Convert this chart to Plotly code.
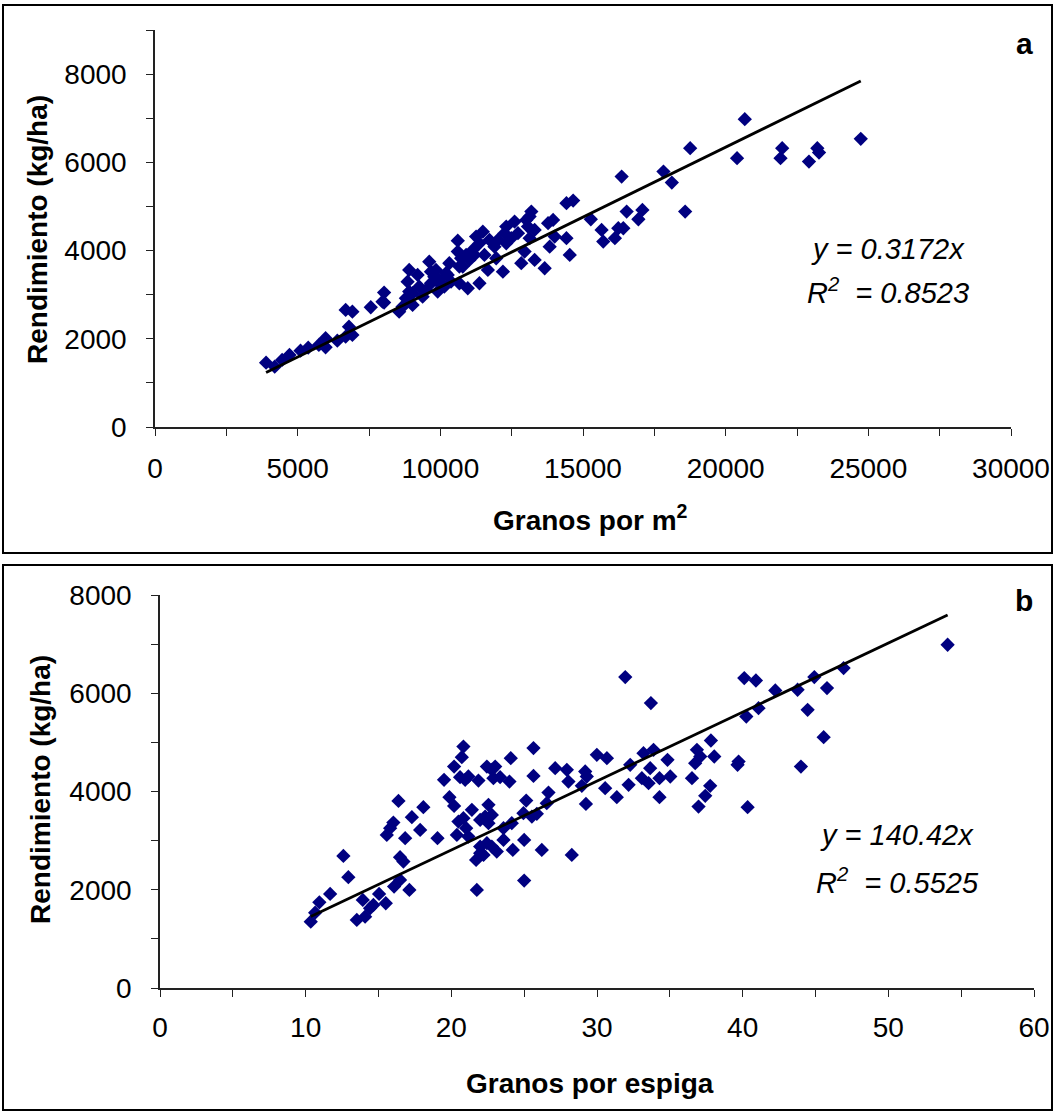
import plotly.graph_objects as go

# Panel a: Granos por m2 vs Rendimiento (kg/ha)
granos_m2 = [3893, 4196, 4456, 4713, 5100, 5370, 5743, 5979, 5979, 6390, 6682, 6918, 6798, 6918, 6682,
             7562, 8029, 7973, 8676, 9028, 9496, 9848, 10199, 10667, 10667, 9964,
             8030, 8557, 8909, 8852, 8909, 8793, 9028, 9204, 9260, 9380, 9612, 9672, 9788, 9964, 9907,
             10315, 10259, 10375, 10611, 10727, 10786, 10962, 11019, 11195, 11254, 11371, 11490, 11546,
             11371, 11666, 11722, 11958, 12018, 12193, 12310, 12310, 12485, 12602, 12721, 12837, 12953,
             13013, 13189, 13129, 13305, 13305, 13657, 13776, 13952, 14008, 13832,
             9672, 10140, 10611, 10903, 11138, 11898, 12249, 13072, 13129,
             14420, 14655, 14420, 14536, 15274, 15651, 15710, 16118, 16237, 16413, 16354, 16530, 16941,
             17082, 17820, 18113, 18580, 18756, 20399, 21981, 21922, 22920, 23212, 23272, 20670, 24735]
rend_a = [1458, 1368, 1520, 1633, 1731, 1799, 1860, 2012, 1808, 1957, 2654, 2615, 2275, 2087, 2048,
          2715, 3047, 2842, 2728, 3032, 3107, 3561, 3485, 3636, 3259, 3334,
          2820, 2615, 3561, 3295, 3069, 2919, 2767, 3447, 3182, 2955, 3749, 3522, 3409, 3259, 3069,
          3712, 3447, 3295, 4225, 3826, 3636, 3146, 3788, 3901, 4316, 4166, 4429, 3901,
          3259, 3561, 4241, 3826, 4241, 3522, 4166, 4543, 4280, 4656, 4393, 3713, 3976,
          4695, 4883, 4280, 4468, 3788, 3599, 4620, 4695, 4316, 4089,
          3259, 3182, 3976, 3901, 4014, 4089, 4393, 4543, 4770,
          5073, 5133, 4280, 3901, 4710, 4468, 4203, 4280, 4506, 4506, 5677, 4883, 4710,
          4922, 5790, 5541, 4883, 6321, 6094, 6321, 6094, 6017, 6321, 6221, 6979, 6532]
slope_a = 0.3172
eq_a = ["y = 0.3172x", "R<sup>2</sup>  = 0.8523"]

# Panel b: Granos por espiga vs Rendimiento (kg/ha)
granos_espiga = [10.35, 10.65, 10.94, 11.68, 12.59, 12.93, 13.51, 13.92, 14.08, 14.42, 14.65, 15.04, 15.50,
                 16.07, 16.48, 17.12, 16.48, 16.71, 15.57, 15.80, 16.02, 16.37, 16.83, 17.29, 17.86, 18.08,
                 19.05, 19.50, 19.87, 20.19, 20.19, 20.72, 20.83, 20.49, 20.38, 20.83, 20.60, 20.95, 21.17,
                 21.02, 21.17, 21.41, 21.75, 21.86, 21.70, 21.98, 22.21, 22.44, 22.55, 22.78, 23.01, 22.89,
                 23.35, 23.99, 24.08, 21.98, 22.32, 22.55, 22.78, 21.98, 22.44, 22.78, 23.12, 23.58, 23.58,
                 24.15, 24.22, 25.00, 25.00, 25.14, 25.53, 25.64, 25.64,
                 31.94, 33.70, 27.13, 27.93, 28.04, 28.27, 26.21, 26.67, 26.55, 24.95, 25.87, 29.19, 29.30,
                 29.99, 30.68, 28.96, 29.24, 30.56, 31.36, 32.17, 32.28, 33.19, 33.88, 33.08, 33.54, 33.65,
                 34.29, 34.29, 35.03, 34.84, 36.52, 36.86, 36.74, 36.97,
                 54.07, 46.93, 44.92, 45.79, 43.77, 42.24, 40.11, 40.91, 41.09, 40.25, 44.46, 45.56, 37.82,
                 37.09, 38.05, 39.72, 39.65, 44.00, 37.77, 37.43, 40.34]
rend_b = [1351, 1534, 1745, 1915, 2689, 2255, 1385, 1792, 1452, 1623, 1691, 1915, 1725,
          2064, 2200, 1996, 2662, 2573, 3117, 3253, 3367, 3809, 3049, 3477, 3218, 3681,
          3049, 4237, 3884, 3707, 4508, 4699, 4915, 3388, 3117, 3457, 4292, 4237, 4305,
          3253, 3082, 3626, 1996, 4223, 2607, 2744, 2709, 4508, 3728, 4441, 4508, 4271,
          4292, 4203, 4679, 3422, 3490, 3355, 3524, 2878, 2948, 2878, 2777, 3015, 3253,
          3355, 2811, 3015, 2186, 3816, 3490, 4318, 4883,
          6329, 5799, 4475, 4441, 4203, 2709, 2811, 3978, 3762, 3558, 3545, 4407, 4305,
          4746, 4679, 4115, 3748, 4068, 3884, 4135, 4543, 4781, 4848, 4271, 4170, 4475,
          4271, 3884, 4305, 4644, 4271, 4848, 4577, 3693,
          6987, 6512, 6329, 6105, 6071, 6057, 6309, 6260, 5697, 5527, 5663, 5106, 5038,
          4712, 4712, 4610, 4543, 4508, 4115, 3911, 3681]
slope_b = 140.42
eq_b = ["y = 140.42x", "R<sup>2</sup>  = 0.5525"]

W, H = 1055, 1114
FONT = "Liberation Sans, Arial, sans-serif"
NAVY = "#000080"

def px(x):
    return x / W

def py(y):
    return 1 - y / H

fig = go.Figure()

for xs, ys, slope, xa, ya in [(granos_m2, rend_a, slope_a, "x", "y"),
                              (granos_espiga, rend_b, slope_b, "x2", "y2")]:
    fig.add_trace(go.Scatter(x=xs, y=ys, mode="markers", xaxis=xa, yaxis=ya,
                             marker=dict(symbol="diamond", size=11, color=NAVY, line=dict(width=0)),
                             showlegend=False, hoverinfo="x+y"))
    x0, x1 = min(xs), max(xs)
    fig.add_trace(go.Scatter(x=[x0, x1], y=[slope * x0, slope * x1], mode="lines",
                             xaxis=xa, yaxis=ya, line=dict(color="black", width=2.8),
                             showlegend=False, hoverinfo="skip"))

axis_common = dict(showgrid=False, zeroline=False, showline=True, linecolor="#222", linewidth=1.5,
                   ticks="outside", ticklen=7, tickwidth=1.2, tickcolor="#222", automargin=False,
                   tickformat="d", tickfont=dict(family=FONT, size=28, color="black"))
minor_common = dict(ticks="outside", ticklen=7, tickwidth=1.2, tickcolor="#222")

fig.update_layout(
    width=W, height=H, autosize=False,
    margin=dict(l=0, r=0, t=0, b=0, pad=0),
    paper_bgcolor="white", plot_bgcolor="white",
    xaxis=dict(domain=[px(155), px(1011)], range=[0, 30000], dtick=5000, anchor="y",
               minor=dict(dtick=2500, **minor_common), ticklabelstandoff=9, **axis_common),
    yaxis=dict(domain=[py(427), py(30)], range=[0, 9000], dtick=2000, anchor="x",
               minor=dict(dtick=1000, **minor_common), ticklabelstandoff=14, **axis_common),
    xaxis2=dict(domain=[px(160), px(1034)], range=[0, 60], dtick=10, anchor="y2",
                minor=dict(dtick=5, **minor_common), ticklabelstandoff=7, **axis_common),
    yaxis2=dict(domain=[py(988), py(595)], range=[0, 8000], dtick=2000, anchor="x2",
                minor=dict(dtick=1000, **minor_common), ticklabelstandoff=14, **axis_common),
)

shapes = []
for (y0, y1) in [(5, 553), (565, 1110)]:
    shapes.append(dict(type="rect", xref="paper", yref="paper", x0=px(3), x1=px(1052),
                       y0=py(y1), y1=py(y0), line=dict(color="black", width=2)))
fig.update_layout(shapes=shapes)

ann = []
title_font = dict(family=FONT, size=28, color="black", weight="bold")
ann.append(dict(text="Rendimiento (kg/ha)", x=px(37), y=py(230), textangle=-90, font=title_font))
ann.append(dict(text="Granos por m<sup>2</sup>", x=px(590), y=py(518), font=title_font))
ann.append(dict(text="Rendimiento (kg/ha)", x=px(40), y=py(790), textangle=-90, font=title_font))
ann.append(dict(text="Granos por espiga", x=px(590), y=py(1083), font=title_font))
ann.append(dict(text="a", x=px(1024), y=py(43), font=dict(family=FONT, size=30, color="black", weight="bold")))
ann.append(dict(text="b", x=px(1024), y=py(600), font=dict(family=FONT, size=30, color="black", weight="bold")))
eq_font = dict(family=FONT, size=29, color="black", style="italic")
ann.append(dict(text=eq_a[0], x=px(888), y=py(249), font=eq_font))
ann.append(dict(text=eq_a[1], x=px(888), y=py(291), font=eq_font))
ann.append(dict(text=eq_b[0], x=px(897), y=py(835), font=eq_font))
ann.append(dict(text=eq_b[1], x=px(897), y=py(881), font=eq_font))
for a in ann:
    a.update(xref="paper", yref="paper", showarrow=False, xanchor="center", yanchor="middle")
fig.update_layout(annotations=ann)

fig.write_html("out.html", config={"displayModeBar": False},
               post_script="document.body.style.margin='0';document.body.style.overflow='hidden';")
